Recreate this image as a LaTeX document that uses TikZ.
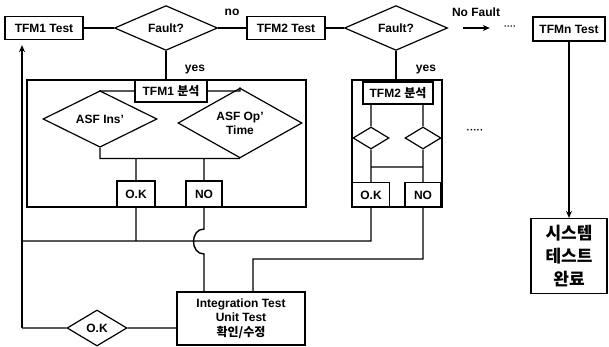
\documentclass[tikz,border=0pt]{standalone}
\usepackage{fontspec}
\setmainfont{Liberation Sans}
\newfontfamily\krfont{Noto Sans CJK KR}
\usetikzlibrary{shapes.geometric,arrows.meta}

\tikzstyle{box}=[draw,line width=1.2pt,rectangle,inner sep=0,font=\bfseries\fontsize{12}{14}\selectfont,align=center]
\tikzstyle{dia}=[draw,line width=1.2pt,diamond,inner sep=0,font=\bfseries\fontsize{12}{14}\selectfont,align=center]
\tikzstyle{grp}=[draw,line width=1.2pt,rectangle,inner sep=0]
\tikzstyle{lbl}=[font=\bfseries\fontsize{12}{14}\selectfont,inner sep=0]
\tikzstyle{flow}=[line width=1.8pt,-{Stealth[length=7pt,width=6pt]}]
\tikzstyle{wire}=[line width=1.4pt]

\begin{document}
\begin{tikzpicture}[x=1pt,y=-1pt]
\useasboundingbox (0,0) rectangle (609,347);

                        % top row
                        \node[box,minimum width=78pt,minimum height=23pt] (t1) at (44,28) {TFM1 Test};
                        \node[dia,minimum width=103pt,minimum height=40pt] (f1) at (166,28) {Fault?};
                        \node[box,minimum width=78pt,minimum height=23pt] (t2) at (286,28) {TFM2 Test};
                        \node[dia,minimum width=103pt,minimum height=38pt] (f2) at (396,28) {Fault?};
                        \node[lbl,font=\bfseries\fontsize{9}{10}\selectfont] (dots1) at (510,28) {····};
                        \node[box,minimum width=72pt,minimum height=24pt] (tn) at (569,29) {TFMn Test};
                        \node[box,minimum width=76pt,minimum height=75pt,font=\krfont\bfseries\fontsize{17}{23}\selectfont] (sys) at (569,256) {시스템\\테스트\\완료};

                        \node[lbl] (no) at (232,12) {no};
                        \node[lbl] (nofault) at (476,12) {No Fault};
                        \node[lbl] (yes1) at (195,70) {yes};
                        \node[lbl] (yes2) at (426,70) {yes};

                        % TFM1 group
                        \node[grp,minimum width=279pt,minimum height=127pt] (g1) at (166.5,143.5) {};
                        \node[box,minimum width=72pt,minimum height=22pt] (an1) at (171,91) {TFM1 {\krfont 분석}};
                        \node[dia,minimum width=114pt,minimum height=38pt] (ins) at (100,119) {ASF Ins'};
                        \node[dia,minimum width=124pt,minimum height=64pt] (opt) at (240,123) {ASF Op'\\Time};
                        \node[box,minimum width=38pt,minimum height=26pt] (ok1) at (136,194) {O.K};
                        \node[box,minimum width=36pt,minimum height=26pt] (no1) at (204,194) {NO};

                        % TFM2 group
                        \node[grp,minimum width=90pt,minimum height=127pt] (g2) at (397,143.5) {};
                        \node[box,minimum width=70pt,minimum height=22pt] (an2) at (398,93) {TFM2 {\krfont 분석}};
                        \node[dia,minimum width=36pt,minimum height=22pt] (d2a) at (371,138) {};
                        \node[dia,minimum width=36pt,minimum height=22pt] (d2b) at (423,138) {};
                        \node[box,minimum width=37pt,minimum height=25pt] (ok2) at (371,195) {O.K};
                        \node[box,minimum width=36pt,minimum height=25pt] (no2) at (423,195) {NO};
                        \node[lbl,font=\bfseries\fontsize{10}{11}\selectfont] (dots2) at (475,131) {·····};

                        % bottom
                        \node[box,minimum width=128pt,minimum height=53pt,font=\bfseries\fontsize{12}{14.5}\selectfont] (int) at (241,318.5) {Integration Test\\Unit Test\\{\krfont 확인/수정}};
                        \node[dia,minimum width=60pt,minimum height=36pt] (okd) at (97,328) {O.K};

                        \coordinate (lc) at (22,328);
                        \coordinate (jn) at (22,241);
                        \coordinate (k2) at (253,259);
                        \coordinate (m2) at (0,167);
                        \coordinate (hop1) at (204,229);
                        \coordinate (hop2) at (204,254);

                        \draw[flow]

                        (t1) -- (f1)
                        (f1) -- (t2)
                        (t2) -- (f2)
                        (f1.south) -- (f1.south |- an1.north)
                        (f2.south) -- (f2.south |- g2.north)
                        (tn) -- (sys)
                        ;

                        \draw[flow,shorten <=15pt,shorten >=14pt] (f2) -- (dots1);
                        \draw[flow,shorten >=5pt] (lc) -- (lc |- t1.south);

                        \draw[wire]

                        (an1.west) -| (ins.north)
                        (an1.east) -| (opt.north)
                        (ins.south) |- (opt.south)
                        (ok1.north |- opt.south) -- (ok1.north)
                        (no1.north |- opt.south) -- (no1.north)

                        (d2a |- an2.south) -- (d2a.north)
                        (d2b |- an2.south) -- (d2b.north)
                        (d2a.south) -- (ok2.north)
                        (d2b.south) -- (no2.north)
                        (d2a |- m2) -- (d2b |- m2)

                        (ok1.south) -- (ok1.south |- jn)
                        (ok2.south) |- (jn)
                        (no1.south) -- (hop1) .. controls (190,229) and (190,254) .. (hop2) -- (hop2 |- int.north)
                        (no2.south) |- (k2) -- (k2 |- int.north)

                        (int.west |- okd) -- (okd.east)
                        (okd.west) -- (lc)
                        ;

\end{tikzpicture}
\end{document}
